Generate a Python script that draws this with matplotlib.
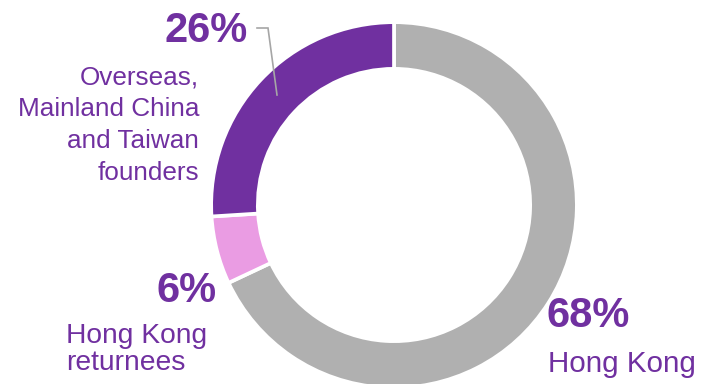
import matplotlib
matplotlib.use("Agg")
import matplotlib.pyplot as plt

# Data
categories = ["Hong Kong", "Hong Kong returnees", "Overseas, Mainland China and Taiwan founders"]
shares = [68, 6, 26]
pct_labels = ["68%", "6%", "26%"]
colors = ["#B0B0B0", "#EA9CE3", "#7030A0"]
text_color = "#7030A0"

W, H = 703, 384
fig = plt.figure(figsize=(W / 100, H / 100), dpi=100)
ax = fig.add_axes([0, 0, 1, 1])

# Pie drawn in pixel coords (y flipped -> counterclock=True gives clockwise on screen)
cx, cy = 394, 205
R = 182.85
ax.pie(shares, colors=colors, startangle=-90, counterclock=True,
       center=(cx, cy), radius=R, frame=True,
       wedgeprops=dict(width=46.7, edgecolor="white", linewidth=2.66))
ax.set_xlim(0, W)
ax.set_ylim(H, 0)
ax.set_aspect("equal")
ax.axis("off")

font = ["Liberation Sans", "DejaVu Sans"]
big = 30

# 26% label
ax.text(248, 42, pct_labels[2], fontsize=big, fontweight="bold", color=text_color,
        ha="right", va="baseline", family=font)
for i, line in enumerate(["Overseas,", "Mainland China", "and Taiwan", "founders"]):
    ax.text(199, 84 + i * 32, line, fontsize=18.8, color=text_color,
            ha="right", va="baseline", family=font)

# leader line
ax.plot([257, 268, 277], [28, 28, 95], color="#A6A6A6", lw=1.2, solid_joinstyle="miter")

# 6% label
ax.text(217, 302, pct_labels[1], fontsize=big, fontweight="bold", color=text_color,
        ha="right", va="baseline", family=font)
for i, line in enumerate(["Hong Kong", "returnees"]):
    ax.text(66, 343 + i * 27, line, fontsize=20.3, color=text_color,
            ha="left", va="baseline", family=font)

# 68% label
ax.text(547, 327, pct_labels[0], fontsize=big, fontweight="bold", color=text_color,
        ha="left", va="baseline", family=font)
ax.text(548, 372, "Hong Kong", fontsize=21.3, color=text_color,
        ha="left", va="baseline", family=font)

fig.savefig("out.png", dpi=100)
